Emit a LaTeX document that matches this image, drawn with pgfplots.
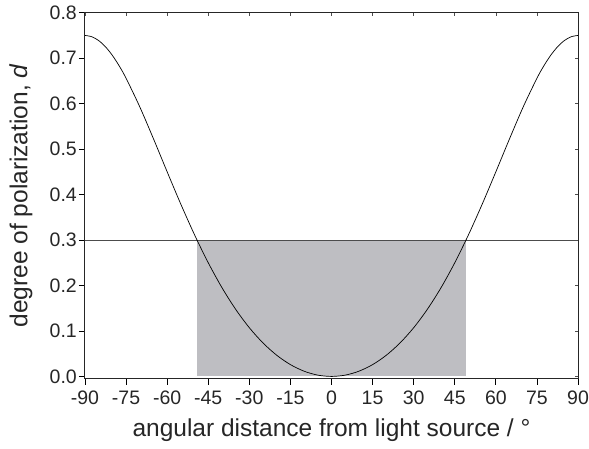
\documentclass[border=0pt]{standalone}
\usepackage{fontspec}
\setmainfont{Liberation Sans}
\usepackage{pgfplots}
\pgfplotsset{compat=1.18}
\definecolor{shade}{RGB}{190,190,194}
\begin{document}
\begin{tikzpicture}
\useasboundingbox (-85pt,-69.3pt) rectangle (504pt,378.7pt);
\begin{axis}[
  at={(0,0)}, anchor=south west,
  scale only axis, width=493pt, height=366pt,
  xmin=-90, xmax=90, ymin=-0.005, ymax=0.8,
  xtick={-90,-75,...,90}, ytick={0,0.1,...,0.8},
  tick align=outside, xtick pos=bottom, ytick pos=left,
  major tick length=6pt,
  tick style={line width=0.8pt, black},
  axis line style={line width=1pt, black!85},
  yticklabel style={/pgf/number format/fixed, /pgf/number format/precision=1, /pgf/number format/fixed zerofill},
  /pgf/number format/assume math mode=true,
  xticklabel style={font=\fontsize{19.5}{19.5}\selectfont, text=black!85, inner sep=1pt, yshift=-5pt},
  yticklabel style={font=\fontsize{19.5}{19.5}\selectfont, text=black!85, inner sep=1pt, xshift=-1pt},
  xlabel={angular distance from light source / °},
  ylabel={degree of polarization, \textit{d}},
  xlabel style={font=\fontsize{24.5}{24.5}\selectfont, text=black!85, at={(axis description cs:0.5,-0.1585)}, anchor=base},
  ylabel style={font=\fontsize{24.5}{24.5}\selectfont, text=black!85, at={(axis description cs:-0.1298,0.5)}, anchor=center},
  clip=false,
]
\addplot[fill=shade, draw=none] coordinates {(-49.1,0) (-49.1,0.3) (49.1,0.3) (49.1,0)} -- cycle;
\addplot[black!70, line width=0.9pt] coordinates {(-90,0.3) (90,0.3)};
\addplot[black, line width=0.7pt, smooth, tension=0.5] coordinates {
(-90,0.75) (-87.5,0.747151) (-85,0.738692) (-82.5,0.724873) (-80,0.706093) (-77.5,0.682876) (-75,0.655827) (-70,0.592910) (-65,0.522691)
(-60,0.45) (-55,0.378677) (-50,0.311438) (-45,0.25) (-40,0.195284) (-35,0.147661)
(-30,0.107143) (-25,0.073545) (-20,0.046592) (-15,0.025991) (-10,0.011481) (-5,0.002860)
(0,0) (5,0.002860) (10,0.011481) (15,0.025991) (20,0.046592) (25,0.073545) (30,0.107143)
(35,0.147661) (40,0.195284) (45,0.25) (50,0.311438) (55,0.378677) (60,0.45)
(65,0.522691) (70,0.592910) (75,0.655827) (77.5,0.682876) (80,0.706093) (82.5,0.724873) (85,0.738692) (87.5,0.747151) (90,0.75)};
\end{axis}
\begin{axis}[
  at={(0,0)}, anchor=south west,
  scale only axis, width=493pt, height=366pt,
  xmin=-90, xmax=90, ymin=-0.005, ymax=0.8,
  xtick={-90,-75,...,90}, ytick={0,0.1,...,0.8},
  tick align=inside, xtick pos=top, ytick pos=right,
  major tick length=3pt, xticklabels={}, yticklabels={},
  tick style={line width=0.6pt, black!70},
  axis line style={line width=1pt, black!85},
]
\end{axis}
\end{tikzpicture}
\end{document}
